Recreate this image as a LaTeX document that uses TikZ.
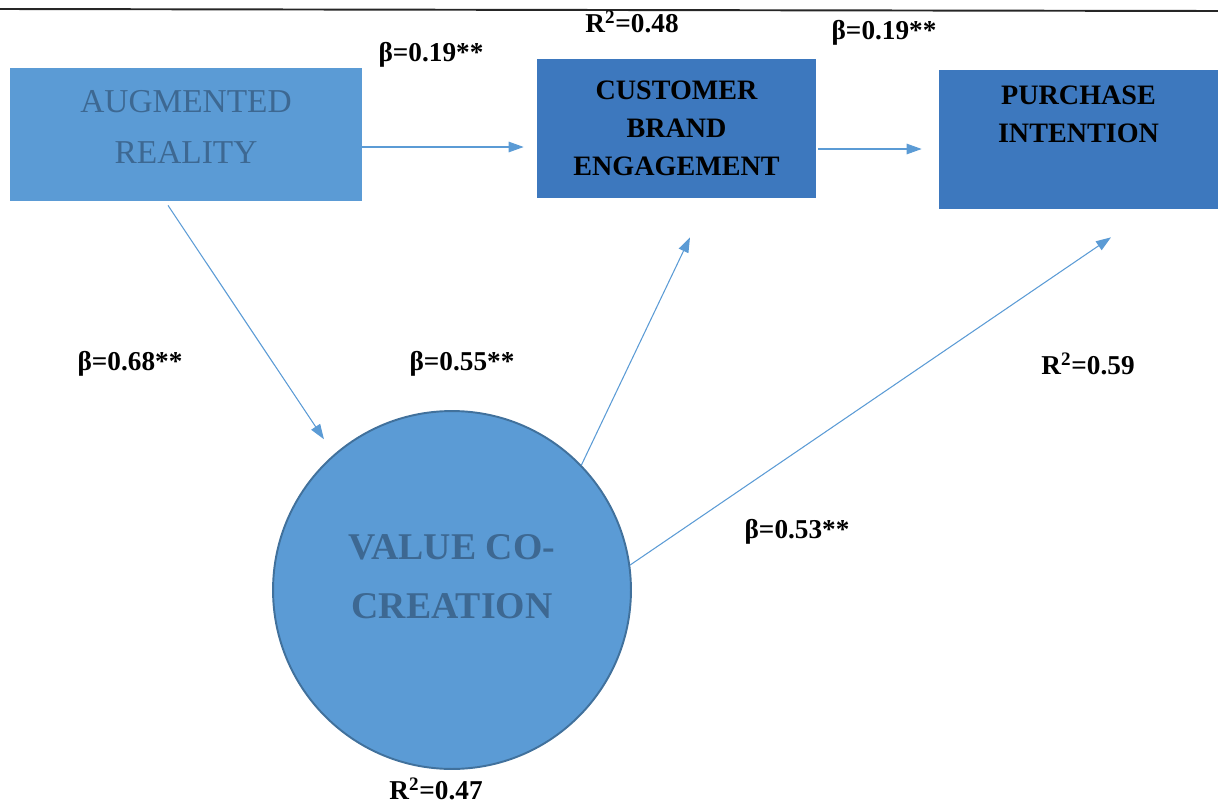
\documentclass[tikz,border=0pt]{standalone}
\usepackage{fontspec}
\setmainfont{Liberation Serif}
\usepackage{tikz}
\usetikzlibrary{arrows.meta}
\usetikzlibrary{positioning}
\usetikzlibrary{calc}
\tikzstyle{coef}=[font=\bfseries\fontsize{15.5}{18}\selectfont,inner sep=0]
\tikzstyle{link}=[draw=pale blue,line width=0.6pt,-{Triangle[length=3mm,width=2.1mm]}]

\begin{document}
\begin{tikzpicture}[
  x=0.02cm, y=-0.02cm,
  box/.style={rectangle,inner sep=0,minimum width=5.58cm,minimum height=2.78cm},
  light box/.style={box,fill=pale blue,minimum width=7.04cm,minimum height=2.66cm},
  dark box/.style={box,fill=deep blue},
  box text/.style={align=center,font=\bfseries\fontsize{16}{21.5}\selectfont},
  faded text/.style={align=center,text=faded ink},
  ball/.style={circle,fill=pale blue,draw=rim blue,line width=1.1pt,minimum size=7.16cm,inner sep=0},
]
  \definecolor{pale blue}{HTML}{5B9BD5}
  \definecolor{deep blue}{HTML}{3D78BE}
  \definecolor{rim blue}{HTML}{41719C}
  \definecolor{faded ink}{HTML}{3D6892}
  \useasboundingbox (0,0) rectangle (1218,805);
  \draw[line width=1.1pt,black!85] (0,9) -- (1218,11);

  \node[light box,label={[faded text,yshift=0.16cm,font=\fontsize{19}{29}\selectfont]center:AUGMENTED\\REALITY}] (AR) at (186,134.5) {};
  \node[dark box] (CBE) at (676.5,128.5) {};
  \node[box text] at (CBE) {CUSTOMER\\BRAND\\ENGAGEMENT};
  \node[dark box,label={[box text,yshift=0.51cm]center:PURCHASE\\INTENTION}] (PI) at (1078.5,139.5) {};
  \node[ball,label={[faded text,yshift=0.27cm,font=\bfseries\fontsize{21.5}{33.5}\selectfont]center:VALUE CO-\\CREATION}] (VCC) at (452,590) {};

  \draw[link] ($(AR.east)+(0,12.5)$) -- ($(CBE.west)+(-13,18.5)$);
  \draw[link] ($(CBE.east)+(2,20.5)$) -- ($(PI.west)+(-17,9.5)$);
  \draw[link,shorten >=0.36cm] ($(AR.south)+(-18,4)$) -- (VCC.131);
  \draw[link] (VCC.44) -- ($(CBE.south)+(13.5,39)$);
  \draw[link] (VCC.8) -- ($(PI.south)+(32.5,28)$);

  \node[coef] (b1) at (431,55) {β=0.19**};
  \node[coef] (r1) at (632,22) {R\textsuperscript{2}=0.48};
  \node[coef] (b2) at (884,33) {β=0.19**};
  \node[coef] (b3) at (130,364) {β=0.68**};
  \node[coef] (b4) at (462,364) {β=0.55**};
  \node[coef] (r2) at (1088,364) {R\textsuperscript{2}=0.59};
  \node[coef] (b5) at (797,532) {β=0.53**};
  \node[coef] (r3) at (436,789) {R\textsuperscript{2}=0.47};
\end{tikzpicture}
\end{document}
